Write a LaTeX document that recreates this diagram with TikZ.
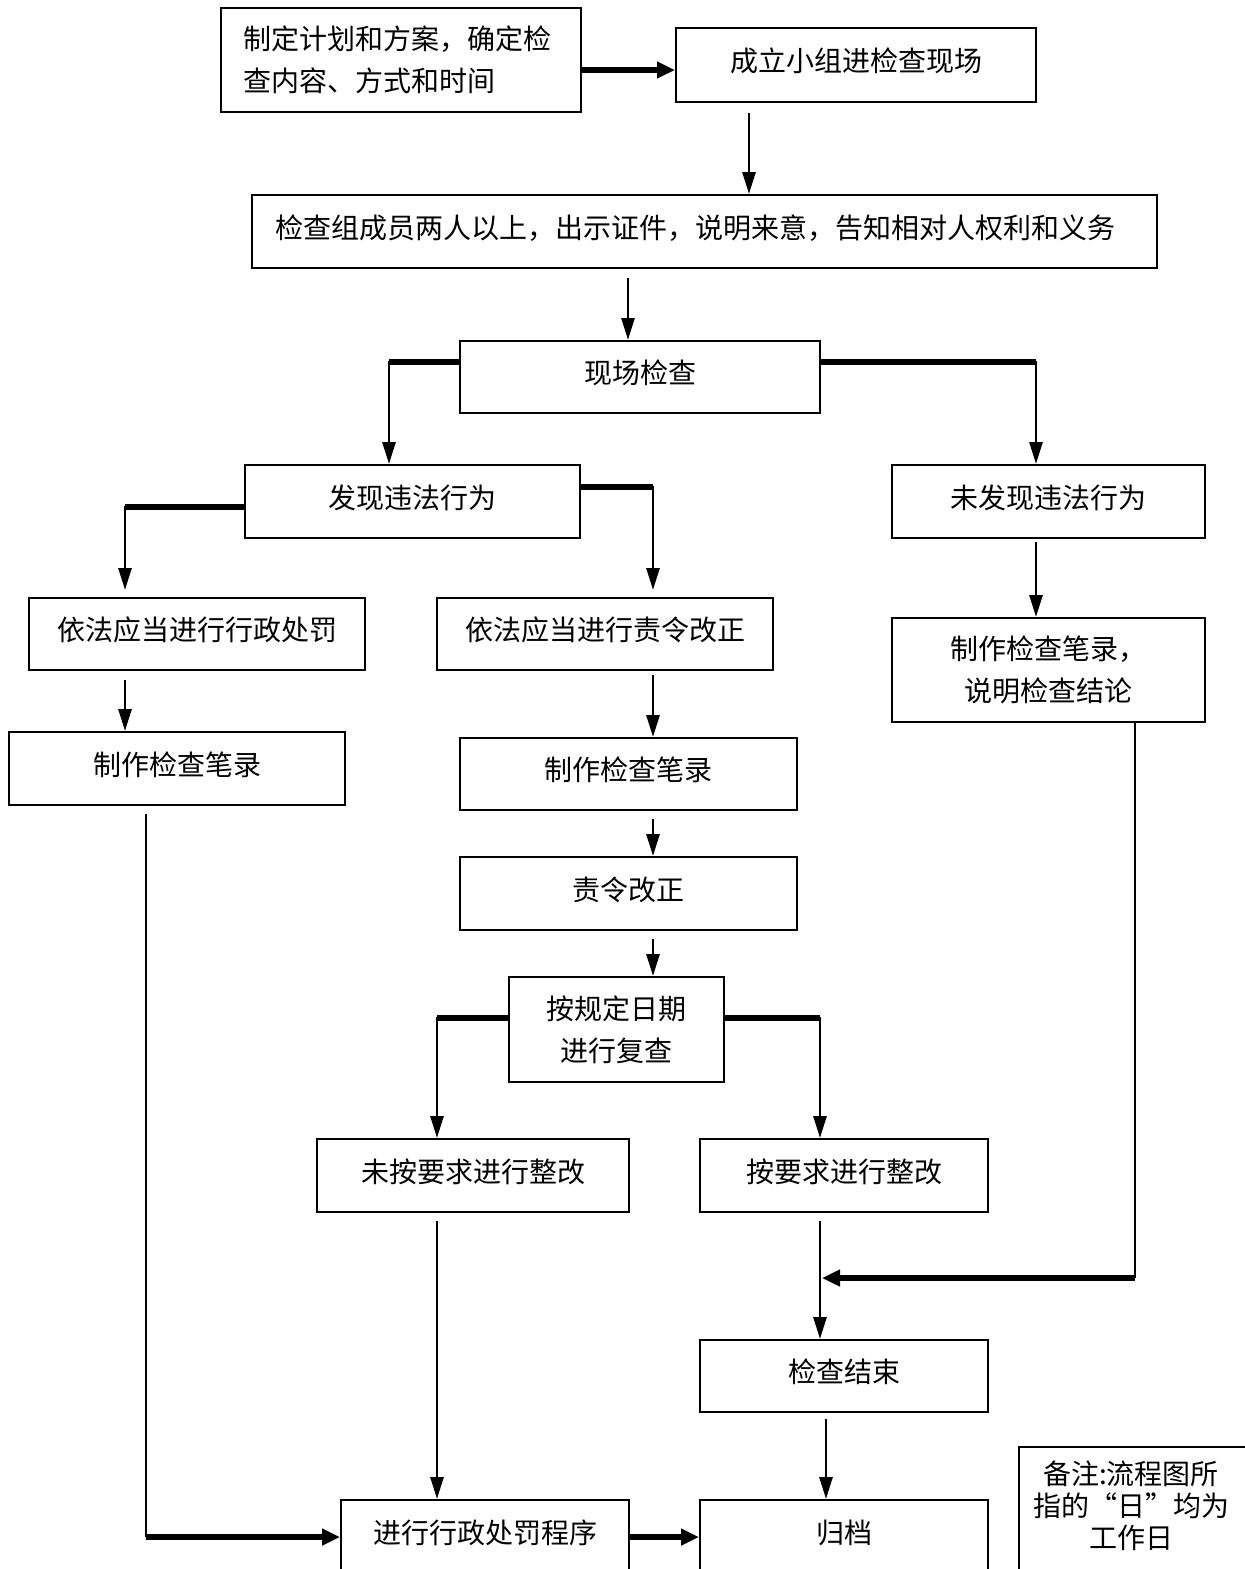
\documentclass[tikz,border=0pt]{standalone}
\usepackage{fontspec}
\setmainfont{Noto Sans CJK SC}
\usetikzlibrary{arrows.meta,calc}
\begin{document}
\begin{tikzpicture}[x=0.5pt,y=-0.5pt,
  box/.style={draw,line width=1pt,inner sep=0pt,font=\fontsize{14}{21}\selectfont,align=center},
  one/.style={text height=11.6pt,text depth=5pt},
  txt/.style={inner sep=0pt,font=\fontsize{14}{21}\selectfont,align=center},
  ln/.style={line width=1.4pt},
  ar/.style={ln,-{Triangle[length=11pt,width=6.5pt]}},
  thk/.style={line width=2.6pt},
  tar/.style={thk,-{Triangle[length=9pt,width=8pt]}}]
\useasboundingbox (0,0) rectangle (1244,1569);
% column coordinates
\coordinate (c125) at (125,0);
\coordinate (c146) at (146,0);
\coordinate (c389) at (389,0);
\coordinate (c437) at (437,0);
\coordinate (c628) at (628,0);
\coordinate (c653) at (653,0);
\coordinate (c749) at (749,0);
\coordinate (c820) at (820,0);
\coordinate (c826) at (826,0);
\coordinate (c1036) at (1036,0);
\coordinate (c1135) at (1135,0);
\coordinate (merge) at (822,1278);
% boxes
\node[box,minimum width=180pt,minimum height=52pt,text width=158pt,align=left] (A) at (401,60) {制定计划和方案，确定检\\查内容、方式和时间};
\node[box,one,minimum width=180pt,minimum height=37pt] (B) at (856,65) {成立小组进检查现场};
\node[box,one,minimum width=452.5pt,minimum height=36.5pt,text width=429pt,align=left] (C) at (704.5,231.5) {检查组成员两人以上，出示证件，说明来意，告知相对人权利和义务};
\node[box,one,minimum width=180pt,minimum height=36pt] (D) at (640,377) {现场检查};
\node[box,one,minimum width=167.5pt,minimum height=36.5pt] (E) at (412.5,501.5) {发现违法行为};
\node[box,one,minimum width=156.5pt,minimum height=36.5pt] (F) at (1048.5,501.5) {未发现违法行为};
\node[box,one,minimum width=168pt,minimum height=36pt] (G) at (197,634) {依法应当进行行政处罚};
\node[box,one,minimum width=168pt,minimum height=36pt] (H) at (605,634) {依法应当进行责令改正};
\node[box,minimum width=156.5pt,minimum height=52pt] (I) at (1048.5,670) {制作检查笔录，\\说明检查结论};
\node[box,one,minimum width=168pt,minimum height=36.5pt] (J) at (177,768.5) {制作检查笔录};
\node[box,one,minimum width=168.5pt,minimum height=36pt] (K) at (628.5,774) {制作检查笔录};
\node[box,one,minimum width=168.5pt,minimum height=36.5pt] (L) at (628.5,893.5) {责令改正};
\node[box,minimum width=107.5pt,minimum height=52.5pt] (M) at (616.5,1029.5) {按规定日期\\进行复查};
\node[box,one,minimum width=156pt,minimum height=36.5pt] (N) at (473,1175.5) {未按要求进行整改};
\node[box,one,minimum width=144pt,minimum height=36.5pt] (O) at (844,1175.5) {按要求进行整改};
\node[box,one,minimum width=144pt,minimum height=36pt] (Q) at (844,1376) {检查结束};
\node[box,minimum width=144pt,minimum height=60pt] (P) at (485,1560) {};
\node[txt] (PT) at (485,1533) {进行行政处罚程序};
\node[box,minimum width=144pt,minimum height=60pt] (R) at (844,1560) {};
\node[txt] (RT) at (844,1533) {归档};
\node[box,minimum width=120.5pt,minimum height=86.5pt] (NB) at (1139.5,1533.5) {};
\node[txt,font=\fontsize{14}{16}\selectfont] (NT) at (1131,1506) {备注:流程图所\\指的“日”均为\\工作日};
% connectors
\draw[tar] ([yshift=-5pt]A.east) -- ([yshift=-5pt]A.east -| B.west);
\draw[ar] ($(B.south -| c749)+(0,10)$) -- (C.north -| c749);
\draw[ar] ($(C.south -| c628)+(0,9)$) -- (D.north -| c628);
\draw[ar] ([yshift=7.5pt]D.west) -| (c389 |- E.north);
\draw[thk] ([yshift=7.5pt]D.west) -- ([yshift=7.5pt]D.west -| c389);
\draw[ar] ([yshift=7.5pt]D.east) -| (c1036 |- F.north);
\draw[thk] ([yshift=7.5pt]D.east) -- ([yshift=7.5pt]D.east -| c1036);
\draw[ar,shorten >=3.5pt] ([yshift=-2.75pt]E.west) -| (c125 |- G.north);
\draw[thk] ([yshift=-2.75pt]E.west) -- ([yshift=-2.75pt]E.west -| c125);
\draw[ar,shorten >=3.5pt] ([yshift=7.25pt]E.east) -| (c653 |- H.north);
\draw[thk] ([yshift=7.25pt]E.east) -- ([yshift=7.25pt]E.east -| c653);
\draw[ar] ($(F.south -| c1036)+(0,3)$) -- (I.north -| c1036);
\draw[ar] ($(G.south -| c125)+(0,9)$) -- (J.north -| c125);
\draw[ar] ($(H.south -| c653)+(0,4)$) -- (K.north -| c653);
\draw[ar] ($(K.south -| c653)+(0,8)$) -- (L.north -| c653);
\draw[ar] ($(L.south -| c653)+(0,8)$) -- (M.north -| c653);
\draw[ar] ([yshift=5.75pt]M.west) -| (c437 |- N.north);
\draw[thk] ([yshift=5.75pt]M.west) -- ([yshift=5.75pt]M.west -| c437);
\draw[ar] ([yshift=5.75pt]M.east) -| (c820 |- O.north);
\draw[thk] ([yshift=5.75pt]M.east) -- ([yshift=5.75pt]M.east -| c820);
\draw[ar] ($(N.south -| c437)+(0,8)$) -- (P.north -| c437);
\draw[ar] ($(O.south -| c820)+(0,8)$) -- (Q.north -| c820);
\draw[ln] (I.south -| c1135) -- (c1135 |- merge);
\draw[tar] (c1135 |- merge) -- (merge);
\draw[ar] ($(Q.south -| c826)+(0,6)$) -- (R.north -| c826);
\draw[ln] ($(J.south -| c146)+(0,8)$) -- ($(c146 |- PT)+(0,4)$);
\draw[tar] ($(c146 |- PT)+(0,4)$) -- ($(P.west |- PT)+(0,4)$);
\draw[tar] ($(P.east |- PT)+(0,4)$) -- ($(R.west |- RT)+(0,4)$);
\end{tikzpicture}
\end{document}
